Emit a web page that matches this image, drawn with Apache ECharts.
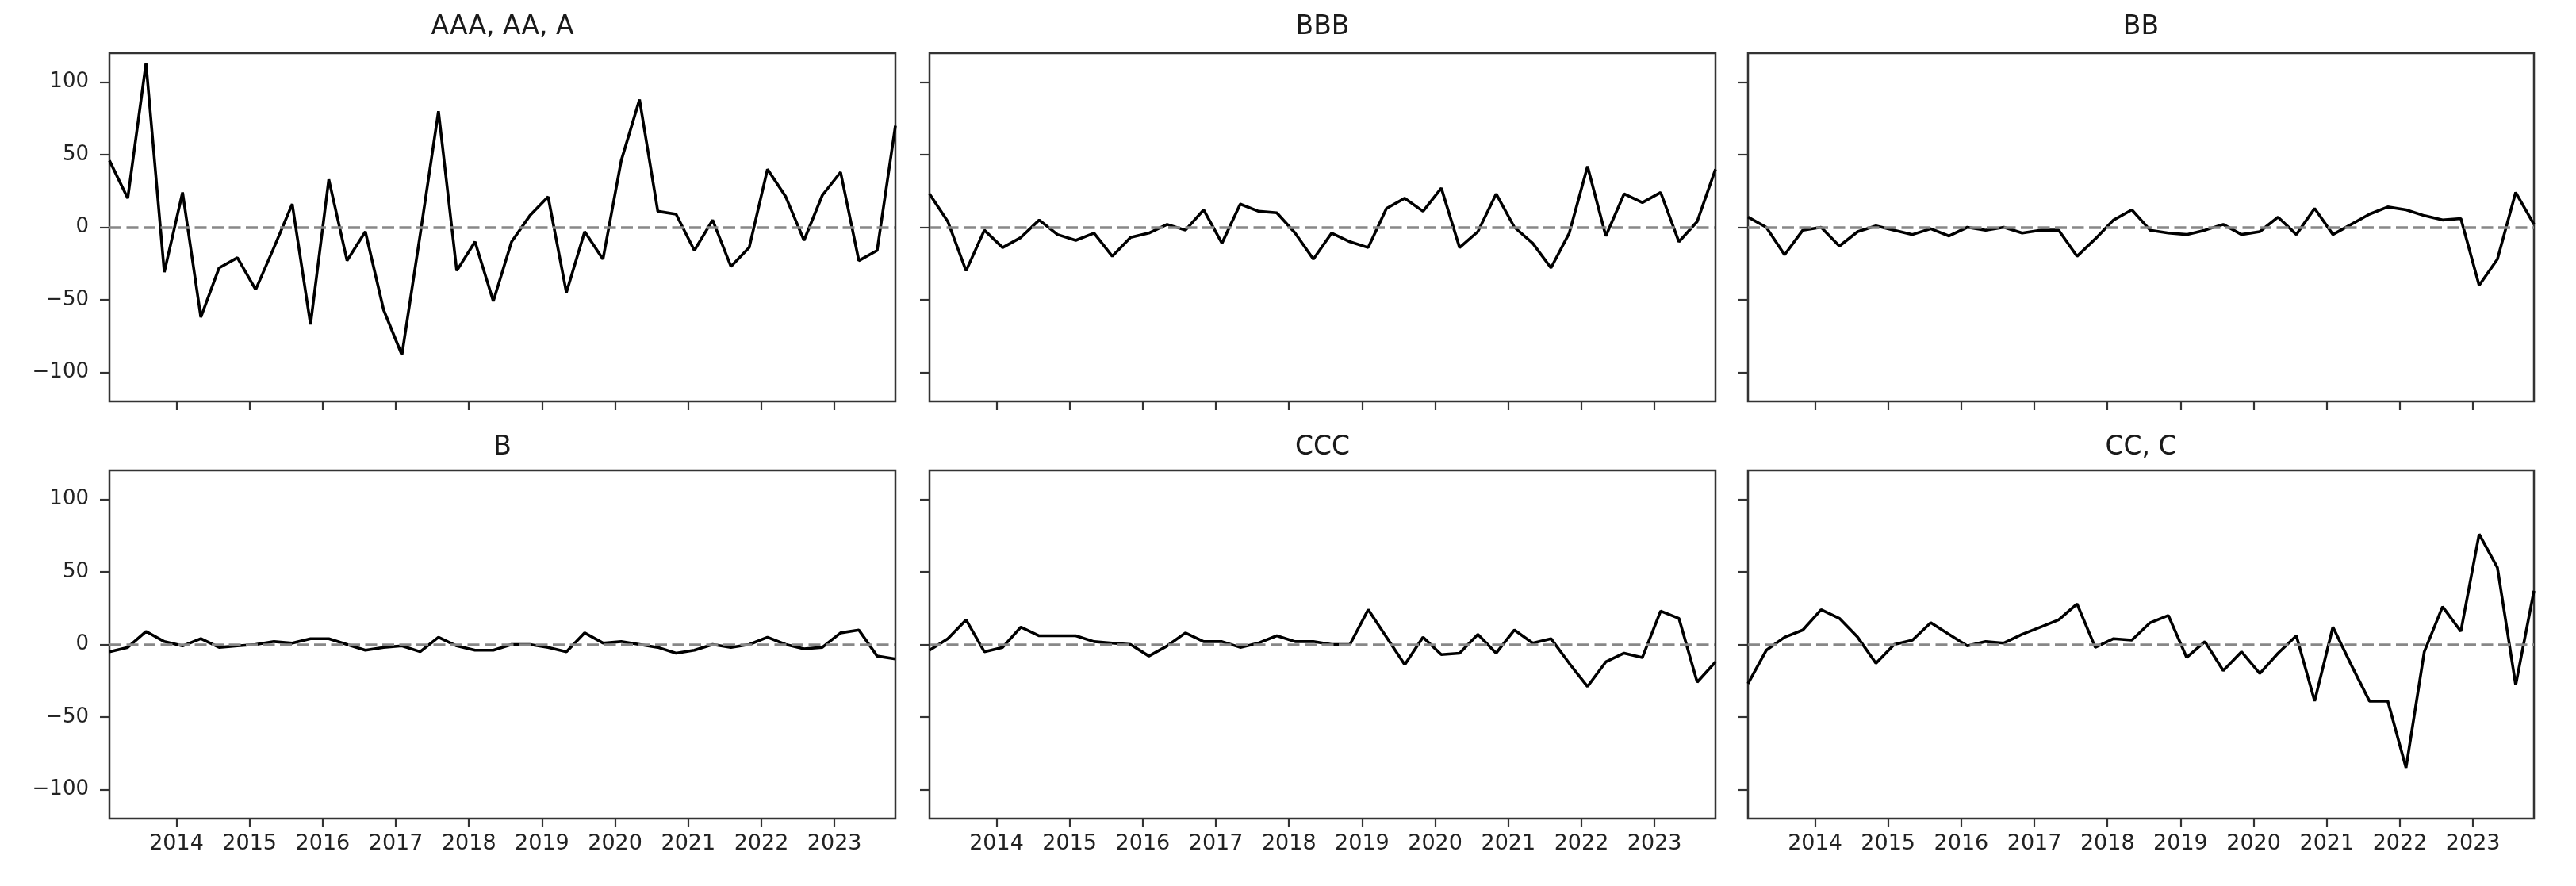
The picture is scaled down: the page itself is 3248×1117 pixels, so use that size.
<!DOCTYPE html>
<html>
<head>
<meta charset="utf-8">
<title>Rating changes</title>
<script src="https://cdn.jsdelivr.net/npm/echarts@6/dist/echarts.min.js"></script>
<style>
  html, body { margin: 0; padding: 0; background: #fff; }
  #main { width: 3248px; height: 1117px; }
</style>
</head>
<body>
<div id="main"></div>
<script>
// quarterly observations
var quarters = [
  '2013-02', '2013-05', '2013-08', '2013-11',
  '2014-02', '2014-05', '2014-08', '2014-11',
  '2015-02', '2015-05', '2015-08', '2015-11',
  '2016-02', '2016-05', '2016-08', '2016-11',
  '2017-02', '2017-05', '2017-08', '2017-11',
  '2018-02', '2018-05', '2018-08', '2018-11',
  '2019-02', '2019-05', '2019-08', '2019-11',
  '2020-02', '2020-05', '2020-08', '2020-11',
  '2021-02', '2021-05', '2021-08', '2021-11',
  '2022-02', '2022-05', '2022-08', '2022-11',
  '2023-02', '2023-05', '2023-08', '2023-11'
];
var years = [2014, 2015, 2016, 2017, 2018, 2019, 2020, 2021, 2022, 2023];
var yTicks = [-100, -50, 0, 50, 100];

var titles = ['AAA, AA, A', 'BBB', 'BB', 'B', 'CCC', 'CC, C'];

var aaa = [46, 20, 113, -31, 24, -62, -28, -21, -43, -14, 16, -67, 33, -23, -3, -57,
  -88, -5, 80, -30, -10, -51, -10, 8, 21, -45, -3, -22, 46, 88, 11, 9,
  -16, 5, -27, -14, 40, 21, -9, 22, 38, -23, -16, 70];
var bbb = [23, 4, -30, -2, -14, -7, 5, -5, -9, -4, -20, -7, -4, 2, -2, 12,
  -11, 16, 11, 10, -4, -22, -4, -10, -14, 13, 20, 11, 27, -14, -3, 23,
  0, -11, -28, -4, 42, -6, 23, 17, 24, -10, 4, 40];
var bb = [7, 0, -19, -2, 0, -13, -3, 1, -2, -5, -1, -6, 0, -2, 0, -4,
  -2, -2, -20, -8, 5, 12, -2, -4, -5, -2, 2, -5, -3, 7, -5, 13,
  -5, 2, 9, 14, 12, 8, 5, 6, -40, -22, 24, 2];
var b = [-5, -2, 9, 2, -1, 4, -2, -1, 0, 2, 1, 4, 4, 0, -4, -2,
  -1, -5, 5, -1, -4, -4, 0, 0, -2, -5, 8, 1, 2, 0, -2, -6,
  -4, 0, -2, 0, 5, 0, -3, -2, 8, 10, -8, -10];
var ccc = [-4, 4, 17, -5, -2, 12, 6, 6, 6, 2, 1, 0, -8, -1, 8, 2,
  2, -2, 1, 6, 2, 2, 0, 0, 24, 5, -14, 5, -7, -6, 7, -6,
  10, 1, 4, -13, -29, -12, -6, -9, 23, 18, -26, -12];
var cc = [-27, -4, 5, 10, 24, 18, 5, -13, 0, 3, 15, 7, -1, 2, 1, 7,
  12, 17, 28, -2, 4, 3, 15, 20, -9, 2, -18, -5, -20, -6, 6, -39,
  12, -14, -39, -39, -85, -5, 26, 9, 76, 53, -28, 37];

var seriesData = [aaa, bbb, bb, b, ccc, cc];

// 'YYYY-MM' -> fractional year, so the x axis is a plain value axis
function toYear(s) {
  var p = s.split('-');
  return +p[0] + (+p[1] - 1) / 12;
}
var xs = quarters.map(toYear);

var colLeft = [138, 1172, 2204];
var rowTop = [67, 593];
var plotW = 991;
var plotH = 439;
var titleTop = [18, 548];
var font = 'DejaVu Sans';

var chart = echarts.init(document.getElementById('main'), null, { renderer: 'canvas' });

var grids = [], xAxes = [], yAxes = [], series = [], titleList = [];
for (var i = 0; i < 6; i++) {
  var col = i % 3, row = Math.floor(i / 3);
  grids.push({
    left: colLeft[col], top: rowTop[row], width: plotW, height: plotH,
    show: true, borderColor: '#333', borderWidth: 2.5, backgroundColor: '#fff'
  });
  titleList.push({
    text: titles[i],
    left: colLeft[col] + plotW / 2,
    top: titleTop[row],
    textAlign: 'center',
    padding: 0,
    textStyle: { fontFamily: font, fontSize: 33, fontWeight: 'normal', color: '#1a1a1a' }
  });
  xAxes.push({
    gridIndex: i,
    type: 'value',
    min: xs[0],
    max: xs[xs.length - 1],
    axisLine: { show: false, onZero: false },
    splitLine: { show: false },
    axisTick: {
      show: true, length: 11,
      lineStyle: { color: '#333', width: 2.2 },
      customValues: years
    },
    axisLabel: {
      show: row === 1,
      margin: 18,
      fontFamily: font, fontSize: 27, color: '#222',
      customValues: years,
      formatter: function (v) { return String(Math.round(v)); }
    }
  });
  yAxes.push({
    gridIndex: i,
    type: 'value',
    min: -120, max: 120,
    axisLine: { show: false, onZero: false },
    splitLine: { show: false },
    axisTick: {
      show: true, length: 12,
      lineStyle: { color: '#333', width: 2.2 },
      customValues: yTicks
    },
    axisLabel: {
      show: col === 0,
      margin: 26,
      fontFamily: font, fontSize: 26, color: '#222',
      customValues: yTicks,
      formatter: function (v) { return String(v).replace('-', '\u2212'); }
    }
  });
  series.push({
    type: 'line',
    xAxisIndex: i, yAxisIndex: i,
    data: xs.map(function (x, k) { return [x, seriesData[i][k]]; }),
    showSymbol: false,
    lineStyle: { color: '#000', width: 3.6 },
    markLine: {
      silent: true,
      symbol: 'none',
      label: { show: false },
      lineStyle: { color: '#888', width: 3.6, type: [15, 6.5] },
      data: [{ yAxis: 0 }]
    }
  });
}

chart.setOption({
  animation: false,
  backgroundColor: '#fff',
  title: titleList,
  grid: grids,
  xAxis: xAxes,
  yAxis: yAxes,
  series: series
});
</script>
</body>
</html>
